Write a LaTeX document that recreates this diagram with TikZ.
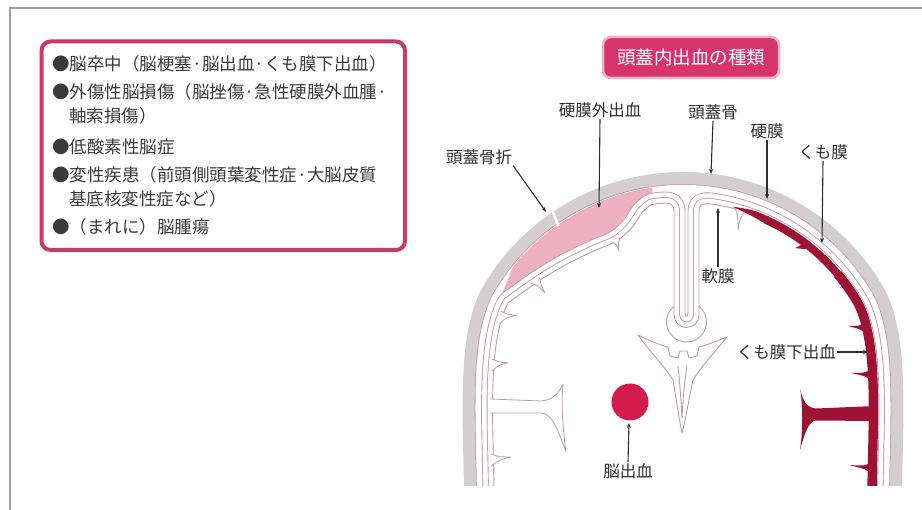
\documentclass[tikz,border=0pt]{standalone}
\usepackage{fontspec}
\setmainfont{Noto Sans CJK JP}
\usetikzlibrary{arrows.meta,calc}

\definecolor{boxred}{HTML}{C93A66}
\definecolor{titlefill}{HTML}{D5356A}
\definecolor{titleedge}{HTML}{F2B0C4}
\definecolor{skullgray}{HTML}{D3CFD0}
\definecolor{layer}{HTML}{C399A5}
\definecolor{hema}{HTML}{EEB0C3}
\definecolor{sah}{HTML}{9E1233}
\definecolor{bleed}{HTML}{D51A4C}
\definecolor{ink}{HTML}{2E2E2E}
\definecolor{listink}{HTML}{3A3A3A}
\definecolor{framegray}{HTML}{A0A0A0}

% outer contour of the brain without the lesion (used for the skull band)
\def\skullpath{(494,540) -- (494,500) .. controls (494,430) and (486,345) .. (508.06,303)
  arc[start angle=-150, end angle=-30, radius=202]
  .. controls (880,345) and (872,430) .. (872,500) -- (872,540) -- cycle}

% brain surface: pushed in by the epidural clot, with the falx slot at the top
\def\brainpath{(494,540) -- (494,500) .. controls (494,430) and (486,345) .. (508.06,303)
  -- plot[smooth] coordinates {(508.06,303) (537.5,281.9) (566,264.6) (594.5,250.7)
     (617.1,240.8) (632.3,227.1) (642.2,212.3) (651.4,204.5)}
  arc[start angle=-99, end angle=-96, radius=202]
  .. controls (671,202.6) and (674,204) .. (674,212) -- (674,315)
  arc[start angle=180, end angle=0, radius=12.5]
  -- (699,212) .. controls (699,204) and (702,203.4) .. (711.1,204.0)
  arc[start angle=-82, end angle=-30, radius=202]
  .. controls (880,345) and (872,430) .. (872,500) -- (872,540) -- cycle}

\begin{document}
\begin{tikzpicture}[x=1pt, y=-1pt,
  lbl/.style={font=\fontsize{16.5pt}{18pt}\selectfont, text=ink, inner sep=1pt},
  listline/.style={anchor=west, font=\fontsize{17.5pt}{19pt}\selectfont, text=listink, inner sep=0pt},
  arr/.style={draw=ink, line width=1.1pt, -{Stealth[length=5pt,width=4pt]}},
  sulcus/.style={fill=white, draw=layer, line width=0.8pt, line join=round},
  memline/.style={draw=layer, line width=0.9pt, line join=round}
]
\useasboundingbox (0,0) rectangle (922,510);

% page frame
\draw[framegray, line width=1.4pt] (10,512) -- (10,8) -- (924,8);

% list of causes
\draw[boxred, line width=4pt, rounded corners=9pt] (41.5,41.5) rectangle (405,250);
\node[listline] (l1) at (52,63.5) {●脳卒中（脳梗塞·脳出血·くも膜下出血）};
\node[listline] (l2) at (52,91.5) {●外傷性脳損傷（脳挫傷·急性硬膜外血腫·};
\node[listline] (l3) at (69,116) {軸索損傷）};
\node[listline] (l4) at (52,146.5) {●低酸素性脳症};
\node[listline] (l5) at (52,175) {●変性疾患（前頭側頭葉変性症·大脳皮質};
\node[listline] (l6) at (69,199) {基底核変性症など）};
\node[listline] (l7) at (52,226.5) {●（まれに）脳腫瘍};

% title badge
\draw[fill=titlefill, draw=titleedge, line width=2.5pt, rounded corners=8pt] (603,37) rectangle (779,78);
\node[font=\fontsize{18.5pt}{20pt}\selectfont, text=white, inner sep=0pt] (title) at (691,57.5) {頭蓋内出血の種類};

\coordinate (O) at (683,404);

\begin{scope}
  \clip (380,90) rectangle (922,486);
  % skull band
  \draw[skullgray, line width=60pt, line join=round] \skullpath;
  \draw[layer, line width=35.8pt, line join=round] \skullpath;
  \draw[white, line width=34.2pt, line join=round] \skullpath;
  \fill[white] \skullpath;
  % epidural clot
  \fill[hema] plot[smooth] coordinates {(508.06,303) (537.5,281.9) (566,264.6) (594.5,250.7)
     (617.1,240.8) (632.3,227.1) (642.2,212.3) (651.4,204.5)}
    -- ($(O)+(-98:218.6)$) arc[start angle=-98, end angle=-141, radius=218.6]
    -- ($(O)+(-150:211)$) -- cycle;
  % meninges: dura, arachnoid, pia
  \draw[layer, line width=22.9pt, line join=round] \brainpath;
  \draw[white, line width=21.1pt, line join=round] \brainpath;
  \draw[layer, line width=11.9pt, line join=round] \brainpath;
  \draw[white, line width=10.1pt, line join=round] \brainpath;
  \fill[white] \brainpath;
  \draw[layer, line width=0.9pt, line join=round] \brainpath;
  % fracture line
  \draw[white, line width=2.6pt] ($(O)+(-125:217)$) -- ($(O)+(-124:234)$);

  % corpus callosum ring below the falx
  \draw[memline] ($(686.5,322)+(231.3:20)$) arc[start angle=231.3, end angle=-51.3, radius=20];
  % ventricles
  \draw[memline] (638,335) .. controls (650,341) and (660,345) .. (668,347)
    -- (670,356) -- (678,358) -- (680,351) -- (687,351) -- (689,358) -- (697,356) -- (699,347)
    .. controls (707,345) and (717,341) .. (727,337)
    .. controls (715,352) and (700,368) .. (693,380)
    .. controls (689,398) and (686,418) .. (682,433)
    .. controls (679,418) and (676,398) .. (673,380)
    .. controls (666,368) and (650,352) .. (638,335) -- cycle;
  \draw[memline] (678,366) .. controls (680,385) and (681,400) .. (682,418)
    .. controls (683,400) and (684,385) .. (687,366);

  % sulci of the left hemisphere
  \filldraw[sulcus] (531.5,283) .. controls (538,286) .. (545,293) .. controls (541,285) .. (539.5,277.5);
  \filldraw[sulcus] (612.5,241.9) .. controls (616,244) .. (619,251) .. controls (618,243) .. (620.1,237.1);
  \filldraw[sulcus] (500.5,311) .. controls (506,314) .. (516,315.5) .. controls (506,318) .. (500,323);
  \filldraw[sulcus] (492,359) .. controls (499,362) .. (508,363) .. controls (499,365) .. (492,371);
  \filldraw[sulcus] (491,454) .. controls (499,457) .. (511,457) .. controls (499,460) .. (491,466);
  \filldraw[sulcus] (735,208.5) .. controls (738,215) .. (738,230) .. controls (740,218) .. (745,211);
  \filldraw[sulcus] (490,399) -- (541,401) .. controls (552,400) and (558,395) .. (563,384)
    .. controls (561,405) and (563,430) .. (566,452)
    .. controls (558,430) and (552,413) .. (541,413) -- (490,413);

  % subarachnoid haemorrhage
  \draw[sah, line width=8pt] ($(O)+(-66:202)$) arc[start angle=-66, end angle=-30, radius=202]
    .. controls (880,345) and (872,430) .. (872,500) -- (872,520);
  \draw[sah, line width=9.4pt] ($(O)+(-40:202)$) arc[start angle=-40, end angle=-30, radius=202]
    .. controls (880,345) and (872,430) .. (872,500) -- (872,520);
  \fill[sah] ($(O)+(-76:203.5)$) .. controls ($(O)+(-70:206.5)$) .. ($(O)+(-65:206)$)
    -- ($(O)+(-65:198)$) .. controls ($(O)+(-70:200.5)$) .. cycle;
  \fill[sah] (803.5,241.5) .. controls (800,246) .. (795,248) .. controls (802,249) .. (811,248.5) -- cycle;
  \fill[sah] (869,321) .. controls (860,326) .. (848,326) .. controls (860,329) .. (869,335) -- cycle;
  \fill[sah] (874,368) .. controls (865,373) .. (851,373) .. controls (865,376) .. (874,382) -- cycle;
  \fill[sah] (874,461) .. controls (865,466) .. (849,465) .. controls (865,469) .. (874,475) -- cycle;
  \fill[sah] (875,406) -- (816,408.5) .. controls (807,408) and (803,401) .. (800,389)
    .. controls (803,405) and (803,430) .. (800,450)
    .. controls (804,436) and (808,421) .. (816,420.5) -- (875,421) -- cycle;
\end{scope}

% intracerebral haemorrhage
\fill[bleed] (630,402) circle[radius=18.5];

% labels
\node[lbl] (fracture) at (479,157) {頭蓋骨折};
\node[lbl] (epi) at (600,110) {硬膜外出血};
\node[lbl] (skull) at (713,112) {頭蓋骨};
\node[lbl] (dura) at (767,131) {硬膜};
\node[lbl] (arach) at (823,152) {くも膜};
\node[lbl] (pia) at (718,276) {軟膜};
\node[lbl, anchor=east] (sahl) at (837,352) {くも膜下出血};
\node[lbl] (ich) at (628,471) {脳出血};

\coordinate (fractureTip) at ($(O)+(-125.5:236)$);
\coordinate (epiTip) at (599,208);
\coordinate (skullTip) at (711,174);
\coordinate (duraTip) at (767,199);
\coordinate (arachTip) at (822,243);
\coordinate (piaTip) at (718,208);
\coordinate (sahTip) at (868,352);
\coordinate (ichTip) at (629,423);

\draw[arr] (fracture.south east) -- (fractureTip);
\draw[arr] (epi.south) -- (epiTip);
\draw[arr] (skull.south) -- (skullTip);
\draw[arr] (dura.south) -- (duraTip);
\draw[arr] (arach.south) -- (arachTip);
\draw[arr] (pia.north) -- (piaTip);
\draw[arr] (sahl.east) -- (sahTip);
\draw[arr] (ich.north) -- (ichTip);
\end{tikzpicture}
\end{document}
